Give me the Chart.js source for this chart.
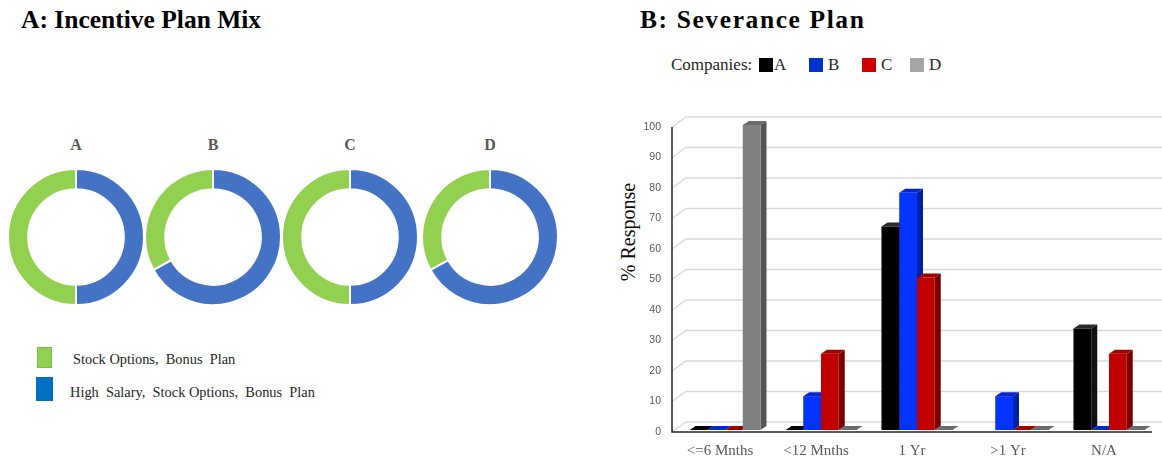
<!DOCTYPE html>
<html>
<head>
<meta charset="utf-8">
<title>Incentive Plan Mix and Severance Plan</title>
<script src="https://cdn.jsdelivr.net/npm/chart.js@4.4.1/dist/chart.umd.min.js"></script>
<style>
  html, body { margin: 0; padding: 0; background: #ffffff; }
  #page {
    position: relative; width: 1162px; height: 459px; overflow: hidden;
    font-family: "Liberation Serif", "Times New Roman", serif; color: #0d0d0d;
  }
  .abs { position: absolute; white-space: pre; line-height: 1; }
  .heading { font-weight: bold; font-size: 25.5px; color: #000; }
  .donut-name { font-weight: bold; font-size: 16px; color: #595959; width: 40px; text-align: center; }
  .plan-text { font-size: 14.4px; color: #262626; }
  .swatch { position: absolute; }
  .co-text { font-size: 17px; color: #262626; }
  #yTitle { font-size: 20px; color: #0d0d0d; width: 140px; text-align: center; transform: rotate(-90deg); }
  canvas { position: absolute; }
</style>
</head>
<body>
<div id="page">
  <div class="abs heading" style="left:21px; top:7px;">A: Incentive Plan Mix</div>
  <div class="abs heading" style="left:640px; top:7px; letter-spacing:1.6px;">B: Severance Plan</div>

  <div id="donutNames"></div>

  <!-- plan legend -->
  <div class="swatch" style="left:37px; top:347px; width:13px; height:19px; background:#92D050; border:1px solid #6cc24a;"></div>
  <div class="abs plan-text" id="planText0" style="left:73px; top:352px;"></div>
  <div class="swatch" style="left:36px; top:377px; width:17px; height:24px; background:#0070C0;"></div>
  <div class="abs plan-text" id="planText1" style="left:70px; top:385px;"></div>

  <!-- company legend -->
  <div class="abs co-text" style="left:671px; top:56px;">Companies:</div>
  <div id="companyLegend"></div>

  <div class="abs" id="yTitle" style="left:558px; top:222px;">% Response</div>

  <canvas id="donut0" width="150" height="150" style="left:1px; top:162px;"></canvas>
  <canvas id="donut1" width="150" height="150" style="left:138px; top:162px;"></canvas>
  <canvas id="donut2" width="150" height="150" style="left:275px; top:162px;"></canvas>
  <canvas id="donut3" width="150" height="150" style="left:415px; top:162px;"></canvas>

  <canvas id="bars" width="562" height="359" style="left:600px; top:100px;"></canvas>
</div>

<script>
// ---- Incentive plan mix (percent of respondents per company) ----
const donutCompanies = ['A', 'B', 'C', 'D'];
const planLabels = ['Stock Options,  Bonus  Plan', 'High  Salary,  Stock Options,  Bonus  Plan'];
const stockBonusShare = [50, 33, 50, 33];
const highSalaryShare = [50, 67, 50, 67];

// ---- Severance plan (% response) ----
const severanceCategories = ['<=6 Mnths', '<12 Mnths', '1 Yr', '>1 Yr', 'N/A'];
const companyNames = ['A', 'B', 'C', 'D'];
const companyA = [0, 0, 66.7, null, 33.3];
const companyB = [0, 11.1, 77.8, 11.1, 0];
const companyC = [0, 25, 50, 0, 25];
const companyD = [100, 0, 0, 0, 0];
const yMin = 0, yMax = 100, yStep = 10;

// colours
const planColors = { stockBonus: '#92D050', highSalary: '#4472C4' };
const companyFront = ['#000000', '#0433FF', '#C00000', '#808080'];
const companyTop   = ['#2a2a2a', '#0626C8', '#9E0000', '#6a6a6a'];
const companySide  = ['#101010', '#0020A6', '#780000', '#555555'];
const companySwatch = ['#000000', '#0033CC', '#CC0000', '#A6A6A6'];

Chart.defaults.font.family = '"Liberation Serif", "Times New Roman", serif';
Chart.defaults.animation = false;

// ---- text pieces ----
document.getElementById('planText0').textContent = planLabels[0];
document.getElementById('planText1').textContent = planLabels[1];

const donutCentersX = [76, 213, 350, 490];
const namesHost = document.getElementById('donutNames');
donutCompanies.forEach((name, i) => {
  const d = document.createElement('div');
  d.className = 'abs donut-name';
  d.style.left = (donutCentersX[i] - 20) + 'px';
  d.style.top = '137px';
  d.textContent = name;
  namesHost.appendChild(d);
});

const legendHost = document.getElementById('companyLegend');
const swatchX = [759, 809, 862, 910];
companyNames.forEach((name, i) => {
  const sw = document.createElement('div');
  sw.className = 'swatch';
  sw.style.cssText = `left:${swatchX[i]}px; top:58px; width:14px; height:14px; background:${companySwatch[i]};`;
  legendHost.appendChild(sw);
  const t = document.createElement('div');
  t.className = 'abs co-text';
  t.style.left = (swatchX[i] + (i === 0 ? 15 : 19)) + 'px';
  t.style.top = '56px';
  t.textContent = name;
  legendHost.appendChild(t);
});

// ---- doughnuts ----
donutCompanies.forEach((name, i) => {
  new Chart(document.getElementById('donut' + i), {
    type: 'doughnut',
    data: {
      labels: [planLabels[1], planLabels[0]],
      datasets: [{
        data: [highSalaryShare[i], stockBonusShare[i]],
        backgroundColor: [planColors.highSalary, planColors.stockBonus],
        borderColor: '#ffffff',
        borderWidth: 2
      }]
    },
    options: {
      responsive: false,
      events: [],
      radius: 68,
      cutout: 52,
      plugins: { legend: { display: false }, tooltip: { enabled: false } }
    }
  });
});

// ---- 3D look for the severance bars ----
const barDepth = { dx: 6, dy: -4 };
const wallDepth = { dx: 14, dy: -10 };
const wallShift = -5;   // front edge of the floor/wall relative to the plot area
const wallLift = 2;     // floor line sits slightly below the bar bases

function poly(ctx, pts, fill) {
  ctx.beginPath();
  ctx.moveTo(pts[0][0], pts[0][1]);
  for (let k = 1; k < pts.length; k++) ctx.lineTo(pts[k][0], pts[k][1]);
  ctx.closePath();
  ctx.fillStyle = fill;
  ctx.fill();
}

const bar3d = {
  id: 'bar3d',
  beforeDatasetsDraw(chart) {
    const ctx = chart.ctx;
    const area = chart.chartArea;
    const ys = chart.scales.y;
    const x0 = area.left + wallShift, x1 = area.right + wallShift;
    ctx.save();

    // floor and back-wall grid lines
    ctx.strokeStyle = '#d9d9d9';
    ctx.lineWidth = 1.3;
    ys.ticks.forEach(t => {
      const y = ys.getPixelForValue(t.value) + wallLift;
      ctx.beginPath();
      ctx.moveTo(x0, y);
      ctx.lineTo(x0 + wallDepth.dx, y + wallDepth.dy);
      ctx.lineTo(chart.width, y + wallDepth.dy);
      ctx.stroke();
    });

    // front axis lines
    const yb = ys.getPixelForValue(yMin) + wallLift;
    const yt = ys.getPixelForValue(yMax) + wallLift;
    ctx.strokeStyle = '#262626';
    ctx.lineWidth = 1.5;
    ctx.beginPath();
    ctx.moveTo(x0, yt);
    ctx.lineTo(x0, yb);
    ctx.lineTo(x1, yb);
    ctx.stroke();

    // side and top faces of every bar (front faces are drawn by the chart)
    chart.data.datasets.forEach((ds, di) => {
      const meta = chart.getDatasetMeta(di);
      meta.data.forEach((bar, i) => {
        if (ds.data[i] === null || ds.data[i] === undefined) return;
        const p = bar.getProps(['x', 'y', 'base', 'width'], true);
        const l = p.x - p.width / 2, r = p.x + p.width / 2;
        const top = Math.min(p.y, p.base), base = Math.max(p.y, p.base);
        const dx = barDepth.dx, dy = barDepth.dy;
        if (base - top > 0.5) {
          poly(ctx, [[r, top], [r + dx, top + dy], [r + dx, base + dy], [r, base]], companySide[di]);
        }
        poly(ctx, [[l, top], [l + dx, top + dy], [r + dx, top + dy], [r, top]],
             base - top > 0.5 ? companyTop[di] : (di === 0 ? '#000000' : companyTop[di]));
      });
    });
    ctx.restore();
  }
};

new Chart(document.getElementById('bars'), {
  type: 'bar',
  data: {
    labels: severanceCategories,
    datasets: [companyA, companyB, companyC, companyD].map((vals, i) => ({
      label: companyNames[i],
      data: vals,
      backgroundColor: companyFront[i],
      borderWidth: 0,
      barPercentage: 1,
      categoryPercentage: 0.74
    }))
  },
  options: {
    responsive: false,
    events: [],
    layout: { padding: { top: 25, right: 5, left: 12, bottom: 0 } },
    plugins: { legend: { display: false }, tooltip: { enabled: false } },
    scales: {
      x: {
        grid: { display: false, drawTicks: false },
        border: { display: false },
        ticks: { color: '#595959', font: { size: 15 }, padding: 12, labelOffset: -5, maxRotation: 0 },
        afterFit(scale) { scale.height = 29; }
      },
      y: {
        min: yMin, max: yMax,
        grid: { display: false, drawTicks: false },
        border: { display: false },
        ticks: {
          stepSize: yStep, color: '#595959', padding: 16, labelOffset: 2,
          font: { family: '"Liberation Sans", Arial, sans-serif', size: 10.5 }
        },
        afterFit(scale) { scale.width = 65; }
      }
    }
  },
  plugins: [bar3d]
});
</script>
</body>
</html>
